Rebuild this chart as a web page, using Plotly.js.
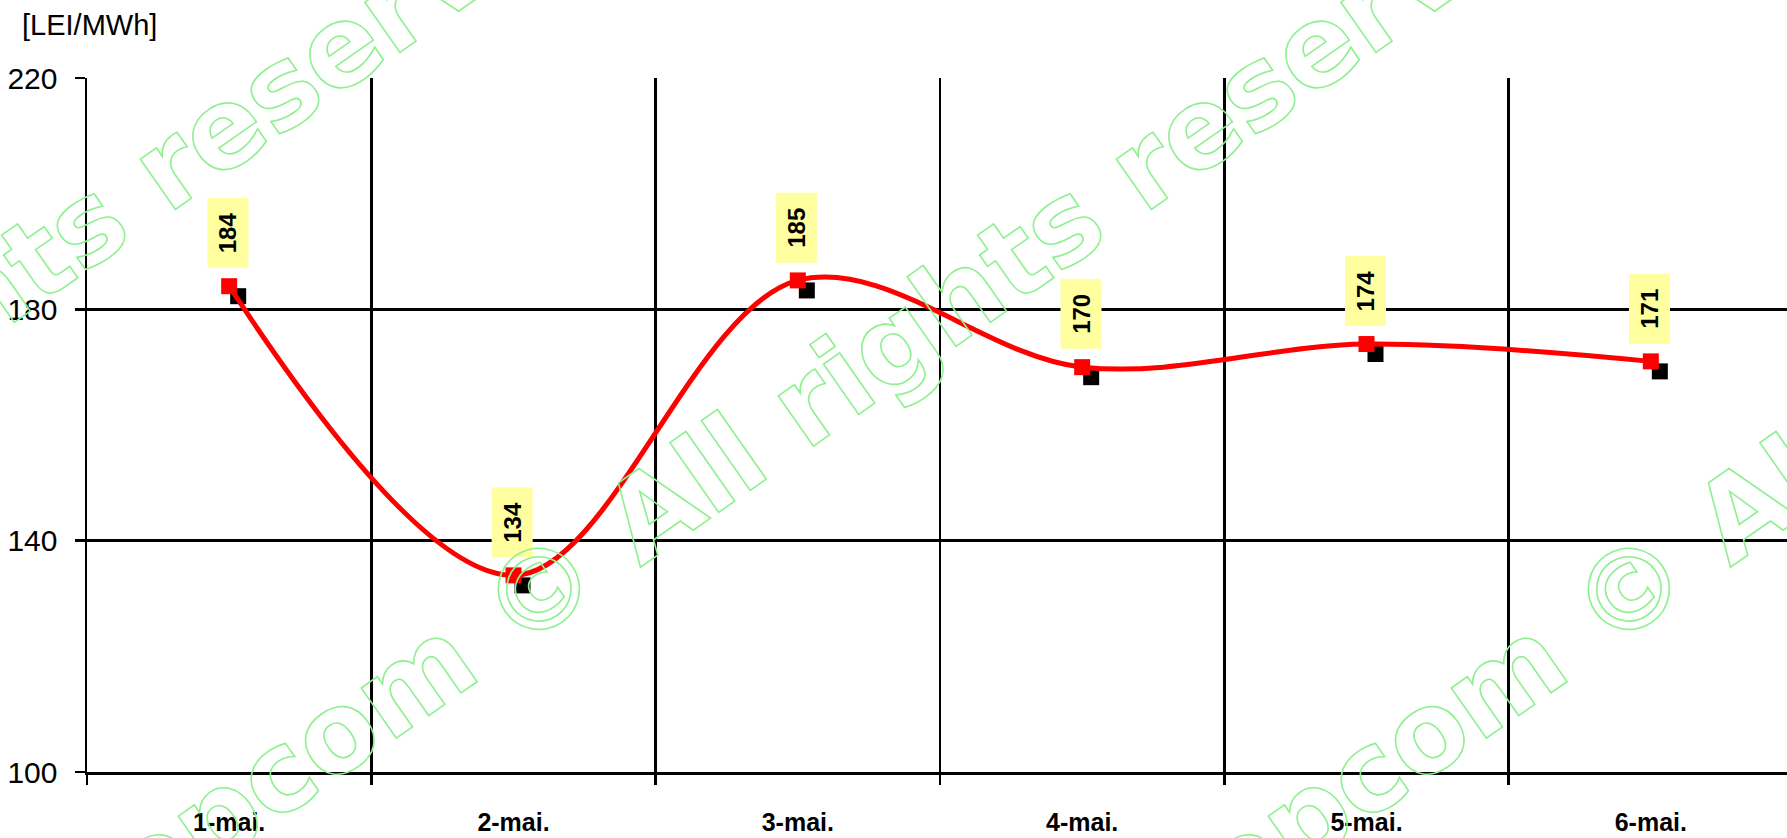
<!DOCTYPE html>
<html><head><meta charset="utf-8">
<script src="https://cdn.plot.ly/plotly-3.0.1.min.js"></script>
<style>
html,body{margin:0;padding:0;overflow:hidden;background:#fff;width:1787px;height:838px}
#wrap{position:relative;width:1787px;height:838px;overflow:hidden}
#chart{position:absolute;left:0;top:0}
#wm{position:absolute;left:0;top:0;pointer-events:none}
</style></head><body>
<div id="wrap"><div id="chart"></div>
<svg id="wm" width="1787" height="838" xmlns="http://www.w3.org/2000/svg"></svg></div>
<script>
// ---- data ----
const categories = ['1-mai.', '2-mai.', '3-mai.', '4-mai.', '5-mai.', '6-mai.'];
const prices = [184, 134, 185, 170, 174, 171];
const priceLabels = ['184', '134', '185', '170', '174', '171'];
const yTickValues = [100, 140, 180, 220];
const yTickLabels = ['100', '140', '180', '220'];
const unitLabel = '[LEI/MWh]';
const watermarkText = 'opcom © All rights reserved';

// ---- layout constants ----
const W = 1800, H = 838, ML = 87, MR = 7, MT = 78, MB = 66;
const plotW = W - ML - MR, plotH = H - MT - MB;
const yMin = 100, yMax = 220;
const catW = plotW / categories.length;
const pxPerUnit = plotH / (yMax - yMin);
const shadowDx = 9, shadowDy = 10;
const baseFont = 'Liberation Sans, Arial, sans-serif';

const shadow = {
  x: categories, y: prices, xaxis: 'x', yaxis: 'y',
  type: 'scatter', mode: 'markers', hoverinfo: 'skip', showlegend: false,
  marker: {symbol: 'square', size: 16, color: '#000000', line: {width: 0}}
};
const main = {
  x: categories, y: prices, xaxis: 'x2', yaxis: 'y2',
  type: 'scatter', mode: 'lines+markers', showlegend: false,
  line: {color: '#ff0000', width: 5, shape: 'spline', smoothing: 1},
  marker: {symbol: 'square', size: 16, color: '#ff0000', line: {width: 0}}
};

const annotations = categories.map((c, i) => ({
  x: c, y: prices[i], xref: 'x2', yref: 'y2',
  text: '<b>' + priceLabels[i] + '</b>', showarrow: false,
  textangle: -90, yshift: 53, xshift: -1,
  width: 69, height: 40, borderpad: 0,
  bgcolor: '#ffffa0', font: {family: baseFont, size: 24, color: '#000'},
  xanchor: 'center', yanchor: 'middle'
}));
annotations.push({
  xref: 'paper', yref: 'paper', x: (20 - ML) / plotW, y: 1 + 53 / plotH,
  xanchor: 'left', yanchor: 'middle', showarrow: false,
  text: unitLabel, font: {family: baseFont, size: 29, color: '#000'}
});

const layout = {
  width: W, height: H,
  margin: {l: ML, r: MR, t: MT, b: MB, pad: 0},
  paper_bgcolor: '#ffffff', plot_bgcolor: '#ffffff',
  showlegend: false,
  xaxis: {type: 'category', categoryarray: categories, visible: false,
          range: [-0.5 - shadowDx / catW, categories.length - 0.5 - shadowDx / catW]},
  yaxis: {visible: false, range: [yMin + shadowDy / pxPerUnit, yMax + shadowDy / pxPerUnit]},
  xaxis2: {
    overlaying: 'x', anchor: 'y2', side: 'bottom', type: 'category',
    categoryarray: categories, range: [-0.5, categories.length - 0.5],
    tickson: 'boundaries', ticks: 'outside', ticklen: 10, tickwidth: 2.5, tickcolor: '#000',
    showgrid: true, gridcolor: '#000', gridwidth: 2.5,
    showline: true, linecolor: '#000', linewidth: 2.5,
    tickfont: {family: baseFont, size: 25, color: '#000', weight: 'bold'},
    ticklabelstandoff: 26, zeroline: false
  },
  yaxis2: {
    overlaying: 'y', anchor: 'x2', side: 'left',
    range: [yMin, yMax], tickmode: 'array', tickvals: yTickValues, ticktext: yTickLabels,
    ticks: 'outside', ticklen: 10, tickwidth: 2.5, tickcolor: '#000',
    showgrid: true, gridcolor: '#000', gridwidth: 2.5,
    showline: true, linecolor: '#000', linewidth: 2.5, zeroline: false,
    tickfont: {family: baseFont, size: 30, color: '#000'},
    ticklabelstandoff: 11
  },
  annotations: annotations
};

Plotly.newPlot('chart', [shadow, main], layout, {displayModeBar: false, staticPlot: true}).then(() => {
  // watermark overlay (outlined rotated text)
  const svg = document.getElementById('wm');
  const NS = 'http://www.w3.org/2000/svg';
  const anchors = [[-437, 589], [539, 589], [1629, 589]];
  const fs = 112, angle = -35;
  anchors.forEach(([cx, cy]) => {
    const t = document.createElementNS(NS, 'text');
    t.setAttribute('font-family', 'DejaVu Sans, Verdana, sans-serif');
    t.setAttribute('font-weight', 'bold');
    t.setAttribute('font-size', fs);
    t.setAttribute('fill', 'none');
    t.setAttribute('stroke', '#8ff08f');
    t.setAttribute('stroke-width', '1.6');
    t.textContent = watermarkText;
    svg.appendChild(t);
    const idx = watermarkText.indexOf('©');
    const ext = t.getExtentOfChar(idx);
    const ox = ext.x + ext.width / 2, oy = -0.36 * fs;
    t.setAttribute('transform', `translate(${cx},${cy}) rotate(${angle}) translate(${-ox},${-oy})`);
  });
});
</script>
</body></html>
